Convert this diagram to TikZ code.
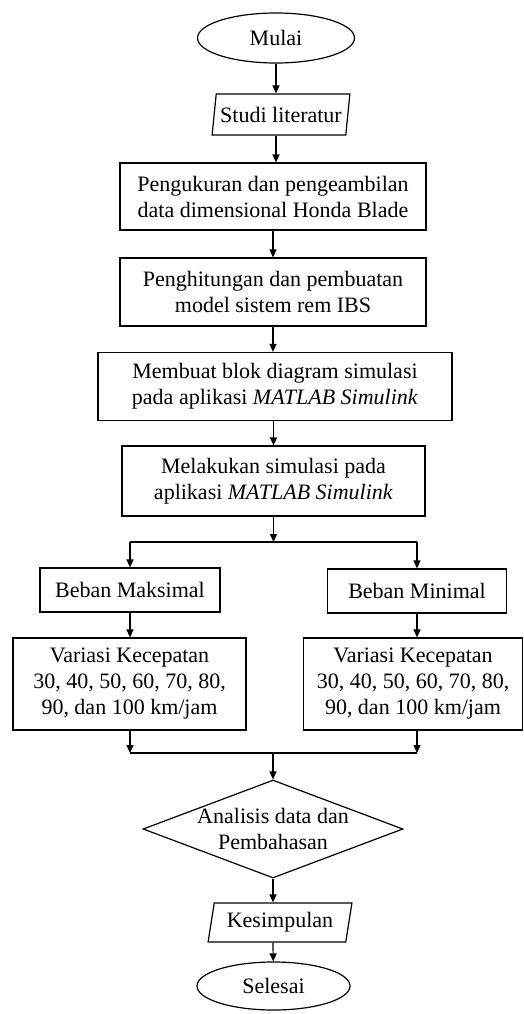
\documentclass[tikz,border=0pt]{standalone}
\usepackage{fontspec}
\setmainfont{Liberation Serif}
\usetikzlibrary{shapes.geometric, arrows.meta, calc}

\begin{document}
\begin{tikzpicture}[x=1pt, y=-1pt, >={Triangle[length=8pt,width=7pt]},
    font=\fontsize{22}{26}\selectfont,
    box/.style={draw, rectangle, align=center, inner sep=0pt, line width=1.2pt},
    term/.style={draw, ellipse, inner sep=0pt, line width=1.2pt},
    io/.style={draw, trapezium, trapezium left angle=76, trapezium right angle=104,
        trapezium stretches=true, inner sep=0pt, line width=1.2pt},
    decision/.style={draw, diamond, inner sep=0pt, line width=1.2pt},
    arr/.style={->, line width=1.2pt}]
    % Page frame
    \useasboundingbox (0,0) rectangle (524,1014);

    % Main column
    \node[term, minimum width=157pt, minimum height=50pt] (start) at (276,38) {Mulai};
    \node[io, minimum width=138pt, minimum height=41pt] (lit) at (281,114.5) {Studi literatur};
    \node[box, minimum width=306pt, minimum height=67pt] (meas) at (273,196.5)
        {Pengukuran dan pengeambilan\\data dimensional Honda Blade};
    \node[box, minimum width=306pt, minimum height=68pt] (model) at (273,292)
        {Penghitungan dan pembuatan\\model sistem rem IBS};
    \node[box, minimum width=354pt, minimum height=68pt] (blok) at (275,386.5)
        {Membuat blok diagram simulasi\\pada aplikasi \textit{MATLAB Simulink}};
    \node[box, minimum width=303pt, minimum height=70pt] (sim) at (273.5,481)
        {Melakukan simulasi pada\\aplikasi \textit{MATLAB Simulink}};

    % Two load cases
    \coordinate (split) at (273.5,542);
    \node[box, minimum width=180pt, minimum height=44pt] (bmax) at (130,590) {Beban Maksimal};
    \node[box, minimum width=179pt, minimum height=44pt] (bmin) at (417,591) {Beban Minimal};
    \node[box, minimum width=233pt, minimum height=92pt] (vmax) at (129.5,684)
        {Variasi Kecepatan\\30, 40, 50, 60, 70, 80,\\90, dan 100 km/jam};
    \node[box, minimum width=219pt, minimum height=92pt] (vmin) at (413,684)
        {Variasi Kecepatan\\30, 40, 50, 60, 70, 80,\\90, dan 100 km/jam};
    \coordinate (join) at (273,753);

    % Closing steps
    \node[decision, minimum width=260pt, minimum height=98pt,
        label={[align=center]center:Analisis data dan\\Pembahasan}] (anl) at (273,829) {};
    \node[io, minimum width=144pt, minimum height=39pt] (concl) at (280,922.5) {Kesimpulan};
    \node[term, minimum width=153pt, minimum height=48pt] (stop) at (273.5,986) {Selesai};

    % Arrows
    \draw[arr] (start.south) -- (start.south |- lit.north);
    \draw[arr] (start.south |- lit.south) -- (start.south |- meas.north);
    \draw[arr] (meas) -- (model);
    \draw[arr] (model.south) -- (model.south |- blok.north);
    \draw[arr] (sim.north |- blok.south) -- (sim.north);
    \draw[arr] (sim.south) -- (split);
    \draw[line width=1.2pt] (split -| bmax) -- (split -| bmin);
    \draw[arr] (split -| bmax) -- (bmax);
    \draw[arr] (split -| bmin) -- (bmin);
    \draw[arr] (bmax.south) -- (bmax.south |- vmax.north);
    \draw[arr] (bmin.south) -- (bmin.south |- vmin.north);
    \draw[arr] (bmax.south |- vmax.south) -- (bmax.south |- join);
    \draw[arr] (bmin.south |- vmin.south) -- (bmin.south |- join);
    \draw[line width=1.2pt] (bmax.south |- join) -- (bmin.south |- join);
    \draw[arr] (join) -- (anl);
    \draw[arr] (anl.south) -- (anl.south |- concl.north);
    \draw[arr] (anl.south |- concl.south) -- (stop);
\end{tikzpicture}
\end{document}
